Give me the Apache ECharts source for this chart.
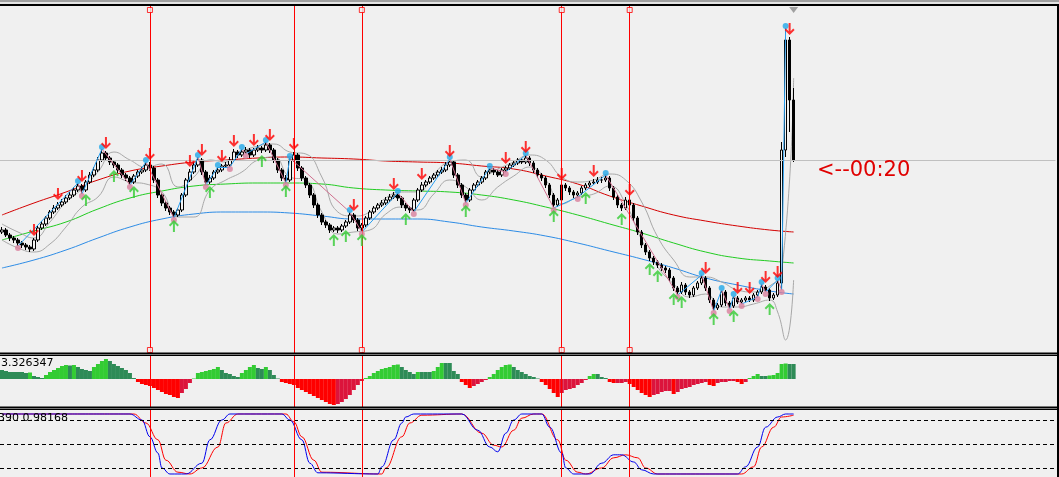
<!DOCTYPE html>
<html><head><meta charset="utf-8">
<script src="https://cdn.jsdelivr.net/npm/echarts@6/dist/echarts.min.js"></script>
<style>html,body{margin:0;padding:0;background:#f0f0f0;overflow:hidden}#c{width:1059px;height:477px}</style>
</head><body><div id="c"></div><script>
// ---- price bars (arbitrary price units) ----
const opens = [120,122,117,114,112,109,107,105,103,112,
124,128,134,140,144,147,150,154,157,162,
166,162,170,177,182,192,199,194,190,187,
182,177,174,170,176,180,182,187,184,172,
157,149,144,140,137,142,157,172,180,187,
192,180,170,174,180,182,186,187,192,200,
197,200,202,197,202,204,202,207,202,192,
182,174,172,192,197,184,174,167,157,147,
137,130,127,122,124,122,126,130,137,132,
124,127,134,140,144,147,149,152,155,157,
154,147,144,142,152,162,167,170,174,177,
180,182,187,190,177,167,157,152,162,167,
170,174,180,182,180,177,182,184,187,189,
192,190,194,189,182,177,174,167,157,147,
152,167,164,160,157,159,164,167,169,170,
172,172,174,164,155,147,144,152,147,134,
120,107,100,94,90,87,84,82,74,64,
60,67,60,57,64,69,74,64,52,44,
47,60,49,46,54,50,52,54,52,57,
60,65,62,54,57,69,202,312,252];
const closes = [122,117,114,112,109,107,105,103,112,124,
128,134,140,144,147,150,154,157,162,166,
162,170,177,182,192,199,194,190,187,182,
177,174,170,176,180,182,187,184,172,157,
149,144,140,137,142,157,172,180,187,192,
180,170,174,180,182,186,187,192,200,197,
200,202,197,202,204,202,207,202,192,182,
174,172,192,197,184,174,167,157,147,137,
130,127,122,124,122,126,130,137,132,124,
127,134,140,144,147,149,152,155,157,154,
147,144,142,152,162,167,170,174,177,180,
182,187,190,177,167,157,152,162,167,170,
174,180,182,180,177,182,184,187,189,192,
190,194,189,182,177,174,167,157,147,152,
167,164,160,157,159,164,167,169,170,172,
172,174,164,155,147,144,152,147,134,120,
107,100,94,90,87,84,82,74,64,60,
67,60,57,64,69,74,64,52,44,47,
60,49,46,54,50,52,54,52,57,60,
65,62,54,57,69,202,312,252,192];
const highs = [125,124,119,116,114,111,109,107,114,126,
131,136,142,147,150,153,157,160,165,169,
168,172,180,185,195,203,201,196,192,189,
184,179,176,178,182,185,190,190,186,174,
159,151,146,142,144,159,174,183,190,195,
194,182,177,182,185,188,190,195,203,202,
203,205,204,204,207,206,210,209,204,194,
184,177,194,200,199,186,176,169,159,149,
139,132,129,126,126,128,132,140,139,134,
129,136,142,146,149,152,155,158,160,159,
156,149,146,154,164,170,172,176,179,182,
185,190,193,192,179,169,159,164,169,172,
176,182,184,184,182,184,186,189,191,194,
194,197,196,191,184,179,176,169,159,154,
170,169,166,162,161,166,169,171,173,175,
175,177,176,166,157,149,155,154,149,136,
122,109,102,96,92,89,86,84,76,66,
70,69,62,66,71,77,76,66,54,49,
62,62,51,56,56,54,56,56,59,62,
68,67,64,59,72,210,324,315,264];
const lows = [118,115,111,109,106,104,102,100,101,110,
122,126,132,138,142,145,148,152,155,160,
158,160,168,175,180,190,191,187,184,179,
174,171,167,168,174,178,180,181,169,154,
146,141,137,134,135,140,155,170,178,185,
177,167,168,172,178,180,184,185,190,194,
195,198,194,195,200,199,200,199,189,179,
171,169,170,190,181,171,164,154,144,134,
127,124,119,120,119,120,124,128,129,121,
120,125,132,138,142,145,147,150,153,151,
144,141,139,140,150,160,165,168,172,175,
178,180,185,174,164,154,149,150,160,165,
168,172,178,177,175,175,180,182,185,187,
188,188,186,179,174,171,164,154,144,145,
150,161,157,154,155,157,162,165,167,168,
169,170,161,152,144,141,142,144,131,117,
104,97,91,87,84,81,79,71,61,57,
58,57,54,55,62,67,61,49,41,42,
45,46,43,44,48,48,50,50,50,55,
58,60,51,52,55,62,195,220,190];

// ---- moving averages: [bar, value] ----
const maRed = [[0,137],[8,149],[16,160],[24,172],[32,181],[40,186],[48,190],[56,192],[64,194],[72,195],[80,194],[88,193],[96,191],[104,190],[112,189],[120,186],[128,183],[136,176],[144,168],[152,156],[160,146],[168,137],[176,131],[184,126],[192,122],[198,120]];
const maGreen = [[0,112],[8,121],[16,130],[24,143],[32,154],[40,161],[48,166],[56,168],[64,169],[72,169],[80,168],[88,164],[96,162],[104,161],[112,160],[120,157],[128,152],[136,145],[144,137],[152,128],[160,119],[168,109],[176,100],[184,94],[192,91],[198,89]];
const maBlue = [[0,84],[8,92],[16,102],[24,114],[32,125],[40,133],[48,138],[56,140],[64,140],[72,139],[80,136],[88,133],[96,133],[104,133],[112,130],[120,125],[128,121],[136,116],[144,109],[152,101],[160,93],[168,84],[176,74],[184,67],[192,61],[198,58]];
const grayUpper = [[0,128],[4,120],[8,114],[12,130],[16,150],[20,163],[24,180],[28,200],[32,192],[36,185],[40,188],[44,165],[48,175],[52,192],[56,190],[60,200],[64,206],[68,208],[72,200],[76,198],[80,175],[84,140],[88,136],[92,140],[96,154],[100,160],[104,160],[108,178],[112,190],[116,192],[120,175],[124,183],[128,190],[132,197],[136,192],[140,175],[144,170],[148,172],[152,178],[156,172],[160,150],[164,115],[168,92],[172,75],[176,75],[180,70],[184,62],[188,60],[192,66],[195,80],[198,274]];
const grayLower = [[0,112],[4,104],[8,100],[12,108],[16,125],[20,145],[24,155],[28,175],[32,170],[36,168],[40,160],[44,135],[48,135],[52,162],[56,172],[60,180],[64,192],[68,195],[72,175],[76,172],[80,140],[84,118],[88,120],[92,122],[96,138],[100,145],[104,142],[108,158],[112,172],[116,165],[120,152],[124,165],[128,176],[132,185],[136,172],[140,148],[144,155],[148,158],[152,166],[156,148],[160,112],[164,85],[168,68],[172,55],[176,58],[180,45],[184,45],[188,48],[192,52],[194,40],[196,12],[198,72]];

// ---- signals (bar indices) ----
const downArrowBars = [8,14,20,26,37,47,50,55,58,63,67,73,88,98,105,112,126,131,140,148,157,176,184,187,191,194,197];
const upArrowBars = [21,28,33,43,52,65,71,83,86,90,101,116,138,146,155,162,164,168,170,178,183,192];
const highDotBars = [19,25,36,49,54,60,66,72,87,99,112,122,131,151,175,180,183,190,194,196];
const lowDotBars = [4,20,32,43,51,57,61,71,90,103,116,126,138,144,169,178,182,185,189,191,195];
const vLineBars = [37,73,90,140,157];
const vLineFlags = [true,false,true,true,true];

// ---- histogram oscillator ----
const hist = [9,8,7,7,7,7,6,6.5,3,2,
1,4,7,9,11,13,14,13.5,14,12,
10,9,8,12,15,18,20,18,15,13,
11,9,6,1,-3,-5,-6,-7,-9,-11,
-13,-15,-16,-18,-19,-14,-10,-4,0.5,6,
7,8,9,10,12,9,6,5,3,2,
6,9,12,14,11,10,12,9,4,0.5,
-3,-4,-5,-6,-9,-11,-13,-15,-17,-19,
-21,-23,-25,-26,-25,-23,-20,-16,-11,-6,
-2,1,3,6,8,10,11,12,14,14.5,
12,9,7,5,7,7,7,7,8,12,
16,16,16,8,5,-3,-6,-9,-7,-5,
-3,-1,2,5,9,12,14,14.5,12,9,
7,5,3,2,0.5,-3,-6,-10,-14,-18,
-14,-11,-10,-9,-6,-4,-1,3,5,5,
2,1,-3,-4,-4,-4,-3,-5,-8,-11,
-14,-16,-18,-16,-15,-13,-12,-12,-15,-13,
-10,-9,-8,-6,-5,-4,-3,-6,-7,-4,
-3,-3,-2,-2,-3,-5,-3,1,3,5,
3,3,3.5,4,6,15,15.5,15,15];

// ---- stochastic: [bar, value] ----
const stochMain = [[0,1.0],[32,1.0],[35,0.9],[37,0.62],[39,0.35],[40,0.1],[42,0.0],[46,0.0],[50,0.18],[52,0.57],[55,0.9],[57,1.0],[70,1.0],[72,0.9],[75,0.57],[77,0.18],[79,0.02],[94,0.0],[95,0.12],[98,0.57],[100,0.85],[101,0.95],[103,1.0],[115,1.0],[119,0.73],[122,0.45],[124,0.37],[126,0.68],[128,0.9],[130,1.0],[135,1.0],[137,0.78],[140,0.35],[141,0.1],[143,0.0],[147,0.0],[150,0.18],[153,0.32],[155,0.32],[158,0.2],[160,0.07],[163,0.0],[184,0.0],[186,0.12],[189,0.45],[191,0.78],[194,0.95],[196,1.0],[198,1.0]];
const stochSignal = [[0,1.0],[33,1.0],[36,0.85],[39,0.57],[41,0.23],[44,0.03],[47,0.0],[50,0.1],[54,0.45],[56,0.85],[59,1.0],[71,1.0],[73,0.87],[75,0.62],[78,0.23],[80,0.03],[95,0.0],[96,0.1],[100,0.62],[102,0.85],[105,0.98],[115,1.0],[120,0.68],[123,0.48],[125,0.45],[128,0.73],[130,0.93],[133,1.0],[135,1.0],[139,0.57],[141,0.23],[144,0.03],[146,0.0],[150,0.1],[153,0.27],[156,0.32],[159,0.27],[161,0.1],[164,0.0],[185,0.0],[188,0.12],[190,0.45],[193,0.78],[195,0.95],[198,0.98]];
const stochLevels = [0.9, 0.5, 0.1];

const histLabel = '3.326347';
const stochLabel = '390 0.98168';
const timerLabel = '<--00:20';
const SLOTS = 264;
const Y_MIN = -1, Y_MAX = 346;

const cats = Array.from({length: SLOTS}, (_, i) => String(i));
const candleData = opens.map((o, i) => [o, closes[i], lows[i], highs[i]]);

const swings = highDotBars.map(i => ({i, p: highs[i]}))
  .concat(lowDotBars.map(i => ({i, p: lows[i]})))
  .sort((a, b) => a.i - b.i || a.p - b.p);
const zigzag = [];
for (let k = 1; k < swings.length; k++) {
  const a = swings[k - 1], b = swings[k];
  zigzag.push([{coord: [a.i, a.p], lineStyle: {color: b.p >= a.p ? '#2a9ff0' : '#d0708f', width: 1}}, {coord: [b.i, b.p]}]);
}

const RED = '#ff0000';
const vStyle = () => ({color: RED, width: 1, type: 'solid', opacity: 1});
const vlineMain = vLineBars.map(b => ({xAxis: b, lineStyle: vStyle()}));
const squareBars = vLineBars.filter((b, k) => vLineFlags[k]);
const squarePts = squareBars.map(b => ({value: [b, Y_MAX], symbolOffset: [0, 4]}))
  .concat(squareBars.map(b => ({value: [b, Y_MIN], symbolOffset: [0, -3]})));

const downPath = 'path://M4,0 L6,0 L6,8 L8.6,5.4 L10,6.8 L5,11.8 L0,6.8 L1.4,5.4 L4,8 Z';
const upPath = 'path://M5,0 L10,5 L8.6,6.4 L6,3.8 L6,12 L4,12 L4,3.8 L1.4,6.4 L0,5 Z';

const GL = -0.5;
const chart = echarts.init(document.getElementById('c'), null, {renderer: 'canvas'});
chart.setOption({
  backgroundColor: '#f0f0f0',
  animation: false,
  grid: [
    {left: GL, top: 6, width: 1056, height: 347},
    {left: GL, top: 355, width: 1056, height: 52},
    {left: GL, top: 409, width: 1056, height: 68}
  ],
  xAxis: [0, 1, 2].map(g => ({type: 'category', gridIndex: g, data: cats, boundaryGap: true, show: false})),
  yAxis: [
    {type: 'value', gridIndex: 0, min: Y_MIN, max: Y_MAX, show: false},
    {type: 'value', gridIndex: 1, min: -28, max: 24, show: false},
    {type: 'value', gridIndex: 2, min: -0.05, max: 1.0833, show: false}
  ],
  series: [
    {type: 'line', name: 'maRed', data: maRed, smooth: true, showSymbol: false, silent: true, z: 2,
      lineStyle: {color: '#d40000', width: 1}},
    {type: 'line', name: 'maGreen', data: maGreen, smooth: true, showSymbol: false, silent: true, z: 2,
      lineStyle: {color: '#22cc22', width: 1}},
    {type: 'line', name: 'maBlue', data: maBlue, smooth: true, showSymbol: false, silent: true, z: 2,
      lineStyle: {color: '#2d8ce6', width: 1}},
    {type: 'line', name: 'grayUpper', data: grayUpper, smooth: true, showSymbol: false, silent: true, z: 2,
      lineStyle: {color: '#a8a8a8', width: 1}},
    {type: 'line', name: 'grayLower', data: grayLower, smooth: true, showSymbol: false, silent: true, z: 2,
      lineStyle: {color: '#a8a8a8', width: 1}},
    {type: 'candlestick', name: 'price', data: candleData, barWidth: 3, z: 3,
      itemStyle: {color: '#f4f4f4', color0: '#000000', borderColor: '#000000', borderColor0: '#000000', borderWidth: 1},
      markLine: {silent: true, symbol: 'none', label: {show: false}, animation: false,
        lineStyle: {color: '#c0c0c0', width: 1, type: 'solid'},
        data: [{yAxis: closes[closes.length - 1]}]},
      markPoint: {silent: true, animation: false, label: {show: false},
        data: [{coord: [closes.length - 1, 342], symbol: 'triangle', symbolRotate: 180, symbolSize: [9, 6], itemStyle: {color: '#a0a0a0'}}]}
    },
    {type: 'scatter', name: 'zigzag', data: [], z: 4,
      markLine: {silent: true, symbol: 'none', label: {show: false}, animation: false,
        lineStyle: {width: 1, type: 'solid'}, data: zigzag}},
    {type: 'scatter', name: 'highDots', data: highDotBars.map(i => [i, highs[i]]), symbol: 'circle', symbolSize: 6,
      symbolOffset: [0, -2], itemStyle: {color: '#22a8e8'}, silent: true, z: 5},
    {type: 'scatter', name: 'lowDots', data: lowDotBars.map(i => [i, lows[i]]), symbol: 'circle', symbolSize: 6,
      symbolOffset: [0, 2], itemStyle: {color: '#d8809c'}, silent: true, z: 5},
    {type: 'scatter', name: 'sell', data: downArrowBars.map(i => [i, highs[i]]), symbol: downPath, symbolSize: [10, 12],
      symbolOffset: [0, -8], itemStyle: {color: '#ff0000'}, silent: true, z: 6},
    {type: 'scatter', name: 'buy', data: upArrowBars.map(i => [i, lows[i]]), symbol: upPath, symbolSize: [10, 12],
      symbolOffset: [0, 8], itemStyle: {color: '#33cc33'}, silent: true, z: 6},
    {type: 'scatter', name: 'vlines', data: [], z: 7, itemStyle: {color: RED},
      markLine: {silent: true, symbol: 'none', label: {show: false}, animation: false,
        lineStyle: vStyle(), data: vlineMain}},
    {type: 'scatter', name: 'vlineEnds', data: squarePts, symbol: 'rect', symbolSize: 5, silent: true, z: 8,
      itemStyle: {color: '#f0f0f0', borderColor: RED, borderWidth: 1}},
    {type: 'bar', name: 'hist', xAxisIndex: 1, yAxisIndex: 1, data: hist, barCategoryGap: '0%', silent: true,
      itemStyle: {color: p => {
        const v = hist[p.dataIndex], pv = p.dataIndex > 0 ? hist[p.dataIndex - 1] : v;
        if (v >= 0) return v > pv ? '#33cc33' : '#2e8b57';
        return v < pv ? '#ff0000' : '#dc143c';
      }}},
    {type: 'scatter', name: 'vlinesHist', xAxisIndex: 1, yAxisIndex: 1, data: [], z: 7, itemStyle: {color: RED},
      markLine: {silent: true, symbol: 'none', label: {show: false}, animation: false, lineStyle: vStyle(), data: vlineMain}},
    {type: 'line', name: 'stochSignal', xAxisIndex: 2, yAxisIndex: 2, data: stochSignal, smooth: 0.4, smoothMonotone: 'x',
      showSymbol: false, silent: true, lineStyle: {color: '#ff0000', width: 1},
      markLine: {silent: true, symbol: 'none', label: {show: false}, animation: false,
        lineStyle: {color: '#000000', width: 1, type: [4, 3]},
        data: stochLevels.map(v => ({yAxis: v}))}},
    {type: 'line', name: 'stochMain', xAxisIndex: 2, yAxisIndex: 2, data: stochMain, smooth: 0.4, smoothMonotone: 'x',
      showSymbol: false, silent: true, lineStyle: {color: '#0000ee', width: 1}},
    {type: 'scatter', name: 'vlinesStoch', xAxisIndex: 2, yAxisIndex: 2, data: [], z: 7, itemStyle: {color: RED},
      markLine: {silent: true, symbol: 'none', label: {show: false}, animation: false, lineStyle: vStyle(), data: vlineMain}}
  ],
  graphic: [
    {type: 'rect', shape: {x: 0, y: 0, width: 1059, height: 2}, style: {fill: '#a0a0a0'}, silent: true, z: 100},
    {type: 'rect', shape: {x: 0, y: 2, width: 1059, height: 2}, style: {fill: '#e4e4e4'}, silent: true, z: 100},
    {type: 'rect', shape: {x: 0, y: 4, width: 1059, height: 2}, style: {fill: '#000000'}, silent: true, z: 100},
    {type: 'rect', shape: {x: 1057, y: 4, width: 2, height: 473}, style: {fill: '#000000'}, silent: true, z: 100},
    {type: 'rect', shape: {x: 0, y: 352.5, width: 1059, height: 1.5}, style: {fill: '#000000'}, silent: true, z: 100},
    {type: 'rect', shape: {x: 0, y: 354.5, width: 1059, height: 1.5}, style: {fill: '#000000'}, silent: true, z: 100},
    {type: 'rect', shape: {x: 0, y: 406.5, width: 1059, height: 1.5}, style: {fill: '#000000'}, silent: true, z: 100},
    {type: 'rect', shape: {x: 0, y: 408.5, width: 1059, height: 1.5}, style: {fill: '#000000'}, silent: true, z: 100},
    {type: 'text', left: 1, top: 358, silent: true, z: 100,
      style: {text: histLabel, fill: '#000000', font: '11px "DejaVu Sans"'}},
    {type: 'text', left: -2, top: 413, silent: true, z: 100,
      style: {text: stochLabel, fill: '#000000', font: '11px "DejaVu Sans"'}},
    {type: 'text', left: 817, top: 160, silent: true, z: 100,
      style: {text: timerLabel, fill: '#e00000', font: '21px "DejaVu Sans"'}}
  ]
});
</script></body></html>
